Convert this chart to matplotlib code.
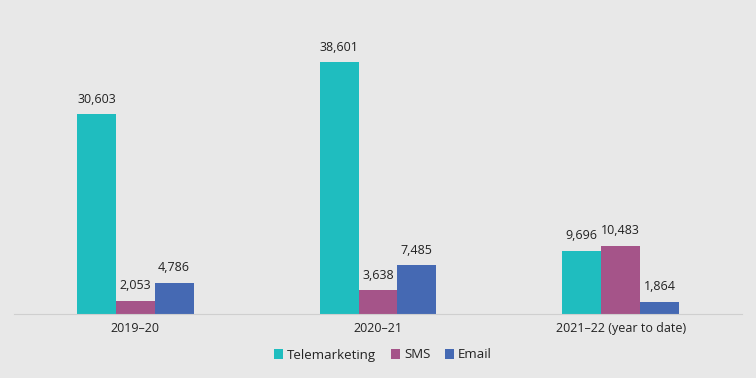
import matplotlib
matplotlib.use("Agg")
import matplotlib.pyplot as plt
import numpy as np

categories = ["2019\u201320", "2020\u201321", "2021\u201322 (year to date)"]
series_names = ["Telemarketing", "SMS", "Email"]
telemarketing = [30603, 38601, 9696]
sms = [2053, 3638, 10483]
email = [4786, 7485, 1864]
colors = ["#1fbdbf", "#a55489", "#4569b3"]

plt.rcParams['font.family'] = ['Open Sans', 'DejaVu Sans']
bg = "#e8e8e8"
fig = plt.figure(figsize=(7.56, 3.78), dpi=100, facecolor=bg)
ax = fig.add_axes([14/756, 64/378, 728/756, 304/378])
ax.set_facecolor(bg)

x = np.arange(len(categories))
w = 0.16
for i, (vals, name, c) in enumerate(zip([telemarketing, sms, email], series_names, colors)):
    pos = x + (i - 1) * w
    bars = ax.bar(pos, vals, width=w, color=c, label=name)
    for p, v in zip(pos, vals):
        ax.annotate(f"{v:,}", (p, v), xytext=(0, 6), textcoords="offset points",
                    ha="center", va="bottom", fontsize=9, color="#222222")

ax.set_xlim(-0.5, 2.5)
ax.set_ylim(0, 46570)
ax.set_yticks([])
ax.set_xticks(x)
ax.set_xticklabels(categories, fontsize=9, color="#222222")
ax.tick_params(axis="x", length=0, pad=6)
for s in ["top", "right", "left"]:
    ax.spines[s].set_visible(False)
ax.spines["bottom"].set_color("#cfcfcf")
ax.spines["bottom"].set_linestyle((0, (2, 1)))
ax.spines["bottom"].set_linewidth(0.8)

leg = fig.legend(loc="center", bbox_to_anchor=(383/756, 1 - 355/378), ncol=3, frameon=False,
                 fontsize=9.5, handlelength=0.7, handleheight=0.7, handletextpad=0.3,
                 columnspacing=1.1)
for t in leg.get_texts():
    t.set_color("#222222")
fig.savefig("out.png", dpi=100, facecolor=bg)
